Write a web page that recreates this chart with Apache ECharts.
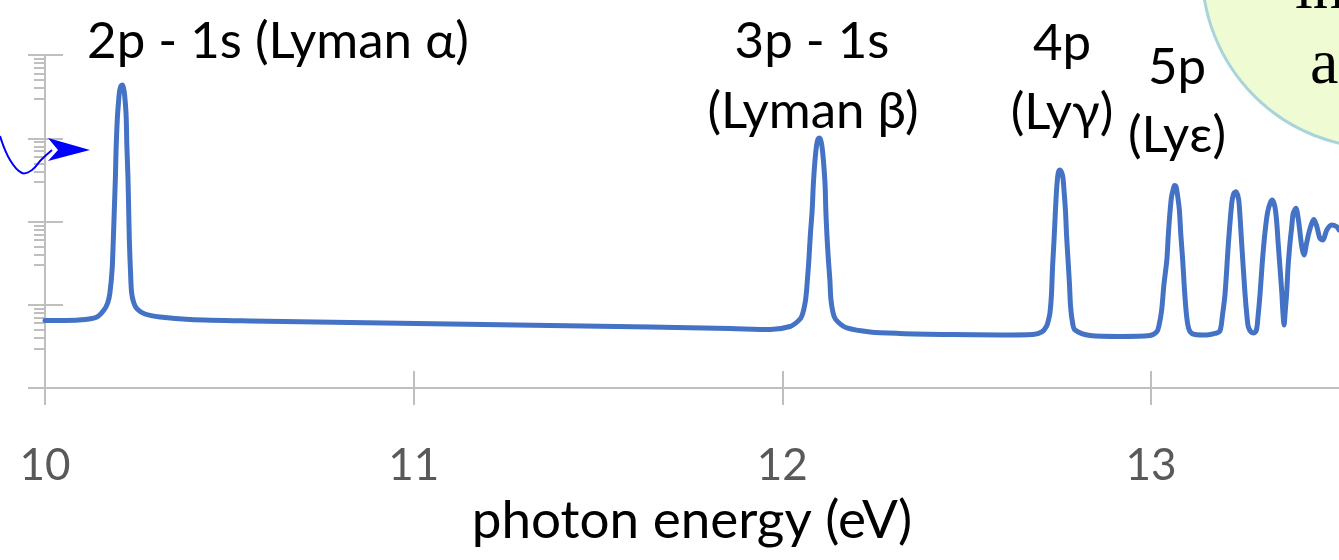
<!DOCTYPE html>
<html>
<head>
<meta charset="utf-8">
<title>Lyman series</title>
<script src="https://cdn.jsdelivr.net/npm/echarts@6/dist/echarts.min.js"></script>
<style>
  html, body { margin: 0; padding: 0; background: #fff; }
  .spectrum { width: 1339px; height: 560px; }
</style>
</head>
<body>
<div class="spectrum"></div>
<script>
// photon energy (eV)
let energy = [
  10.000, 10.054, 10.109, 10.141, 10.160, 10.170, 10.176, 10.182, 10.185, 10.188,
  10.191, 10.193, 10.196, 10.199, 10.202, 10.206, 10.210, 10.213, 10.216, 10.220,
  10.222, 10.225, 10.227, 10.229, 10.232, 10.235, 10.241, 10.250, 10.271, 10.312,
  10.393, 10.556, 10.827, 11.099, 11.370, 11.641, 11.858, 11.967,
  12.021, 12.043, 12.053, 12.063, 12.068, 12.072, 12.076, 12.081, 12.084, 12.088,
  12.093, 12.097, 12.100, 12.104, 12.108, 12.112, 12.116, 12.118, 12.121, 12.125,
  12.129, 12.132, 12.140, 12.151, 12.175, 12.238,
  12.319, 12.455, 12.590, 12.680, 12.704,
  12.717, 12.722, 12.726, 12.730, 12.733, 12.737, 12.740, 12.743, 12.746, 12.749,
  12.753, 12.757, 12.761, 12.764, 12.768, 12.771, 12.775, 12.779, 12.782, 12.787,
  12.794, 12.835, 12.916, 12.997,
  13.016, 13.022, 13.029, 13.035, 13.043, 13.047, 13.052, 13.056, 13.061, 13.064,
  13.068, 13.072, 13.077, 13.081, 13.086, 13.090, 13.095, 13.100, 13.106, 13.119,
  13.151, 13.174,
  13.187, 13.194, 13.201, 13.210, 13.219, 13.224, 13.230, 13.235, 13.239, 13.246,
  13.255, 13.260, 13.264, 13.271, 13.279,
  13.286, 13.290, 13.296, 13.302, 13.309, 13.316, 13.323, 13.329, 13.336, 13.341,
  13.345, 13.350, 13.355, 13.358, 13.361, 13.364, 13.368, 13.372, 13.377, 13.382,
  13.386, 13.393, 13.400, 13.409, 13.415, 13.422, 13.429, 13.436, 13.442, 13.450,
  13.458, 13.466, 13.477, 13.490, 13.504, 13.510
];
// intensity, log scale (no tick values on the original)
let intensity = [
  6.47, 6.47, 6.65, 7.13, 8.65, 10.5, 13.8, 26.2, 55.2, 137,
  342, 785, 1657, 2578, 3594, 4243, 4362, 4015, 3307, 1902,
  830, 342, 137, 55.2, 24.7, 13.8, 10.5, 8.89, 7.74, 7.13,
  6.65, 6.38, 6.12, 5.87, 5.63, 5.40, 5.18, 5.04,
  5.48, 6.38, 7.33, 11.4, 19.8, 34.5, 68.8, 137, 274, 504,
  830, 980, 1007, 953, 770, 504, 274, 137, 68.8, 34.5,
  19.8, 11.4, 7.33, 6.20, 5.26, 4.71,
  4.52, 4.39, 4.33, 4.39, 4.71,
  5.56, 6.56, 7.96, 13.1, 28.4, 59.9, 113, 208, 315, 393,
  416, 393, 342, 239, 137, 68.8, 34.5, 17.3, 9.40, 6.20,
  4.97, 4.27, 4.16, 4.27,
  4.75, 5.71, 8.65, 17.3, 34.5, 68.8, 137, 202, 250, 271,
  262, 208, 137, 68.8, 34.5, 17.3, 8.65, 5.71, 4.75, 4.39,
  4.33, 4.52,
  4.84, 7.53, 13.7, 54.7, 165, 214, 228, 208, 165, 54.7,
  13.7, 7.53, 5.45, 4.71, 4.58,
  4.97, 6.93, 13.7, 32.6, 72.2, 127, 165, 181, 151, 98.6,
  54.7, 27.6, 13.7, 7.96, 5.71, 8.18, 13.7, 29.2, 54.7, 88.3,
  126, 144, 104, 49.8, 39.6, 54.7, 74.8, 95.2, 106, 86.6,
  62.8, 59.9, 79.1, 90.8, 86.6, 79.1
];
let energyTicks = [10, 11, 12, 13];
// minor ticks inside each decade of the log axis
let minorSteps = [3, 4, 5, 6, 7, 8, 9];
let peakLabels = ['2p - 1s (Lyman α)', '3p - 1s', '(Lyman β)', '4p', '(Lyγ)', '5p', '(Lyε)'];

(function () {
  let mychart = echarts.init(document.querySelector('.spectrum'))
  let axisGray = '#bfbfbf'
  let labelFont = '51px Lato, "Noto Sans", sans-serif'
  let points = energy.map(function (e, i) {
    return [e, intensity[i]]
  })
  // decade exponent + log10(step), drawn on a helper axis running 0..4
  let minorTicks = []
  for (let d = 0; d < 4; d++) {
    minorSteps.forEach(function (k) {
      minorTicks.push(+(d + Math.log10(k)).toFixed(4))
    })
  }

  function peakText(text, x, y) {
    return {
      type: 'text',
      x: x,
      y: y,
      z: 100,
      style: {
        text: text,
        font: labelFont,
        fill: '#000',
        textAlign: 'center',
        textVerticalAlign: 'middle',
        align: 'center',
        verticalAlign: 'middle'
      }
    }
  }

  let option = {
    animation: false,
    backgroundColor: '#fff',
    grid: {
      left: 45,
      right: 0,
      top: 55,
      bottom: 172,
      outerBoundsMode: 'none'
    },
    xAxis: [
      {
        type: 'value',
        min: 10,
        max: 13.51,
        position: 'bottom',
        axisLine: { show: true, onZero: false, lineStyle: { color: axisGray, width: 2 } },
        axisTick: { show: true, length: 17, customValues: energyTicks, lineStyle: { color: axisGray, width: 2 } },
        axisLabel: {
          customValues: energyTicks,
          margin: 56,
          fontSize: 44,
          fontFamily: 'Lato',
          color: '#595959'
        },
        splitLine: { show: false },
        name: 'photon energy (eV)',
        nameLocation: 'middle',
        nameGap: 106,
        nameTextStyle: { fontSize: 53, fontFamily: 'Lato', color: '#000' }
      },
      {
        // second axis only for the upward half of the crossing ticks
        type: 'value',
        min: 10,
        max: 13.51,
        position: 'bottom',
        axisLine: { show: false, onZero: false },
        axisTick: { show: true, inside: true, length: 17, customValues: energyTicks, lineStyle: { color: axisGray, width: 2 } },
        axisLabel: { show: false },
        splitLine: { show: false }
      }
    ],
    yAxis: [
      {
        type: 'log',
        logBase: 10,
        min: 1,
        max: 10000,
        position: 'left',
        axisLine: { show: true, onZero: false, lineStyle: { color: axisGray, width: 2 } },
        axisTick: { show: true, length: 17, lineStyle: { color: axisGray, width: 2 } },
        axisLabel: { show: false },
        splitLine: { show: false }
      },
      {
        type: 'log',
        logBase: 10,
        min: 1,
        max: 10000,
        position: 'left',
        axisLine: { show: false, onZero: false },
        axisTick: { show: true, inside: true, length: 18, lineStyle: { color: axisGray, width: 2 } },
        axisLabel: { show: false },
        splitLine: { show: false }
      },
      {
        type: 'value',
        min: 0,
        max: 4,
        position: 'left',
        axisLine: { show: false, onZero: false },
        axisTick: { show: true, length: 11, customValues: minorTicks, lineStyle: { color: axisGray, width: 2 } },
        axisLabel: { show: false },
        splitLine: { show: false }
      }
    ],
    series: [
      {
        name: 'Lyman series',
        type: 'line',
        xAxisIndex: 0,
        yAxisIndex: 0,
        data: points,
        showSymbol: false,
        smooth: 0.3,
        lineStyle: { color: '#4472c4', width: 5, cap: 'round', join: 'round' }
      }
    ],
    graphic: [
      {
        type: 'circle',
        z: 90,
        shape: { cx: 1380, cy: -30, r: 178 },
        style: { fill: '#eefbd3', stroke: '#a8d4da', lineWidth: 3 }
      },
      {
        type: 'text',
        x: 1295,
        y: -9,
        z: 100,
        style: { text: 'in', font: '64px "Liberation Serif"', fill: '#000', verticalAlign: 'middle', textVerticalAlign: 'middle' }
      },
      {
        type: 'text',
        x: 1310,
        y: 66,
        z: 100,
        style: { text: 'a', font: '64px "Liberation Serif"', fill: '#000', verticalAlign: 'middle', textVerticalAlign: 'middle' }
      },
      {
        type: 'polyline',
        z: 100,
        shape: { points: [[0, 136], [10, 160], [22, 173], [32, 170], [41, 160], [52, 150]], smooth: 0.4 },
        style: { stroke: '#0000ff', lineWidth: 2, fill: null }
      },
      {
        type: 'polygon',
        z: 100,
        shape: { points: [[48, 138], [90, 150], [48, 161], [58, 150]] },
        style: { fill: '#0000ff' }
      },
      peakText(peakLabels[0], 278, 42),
      peakText(peakLabels[1], 812, 42),
      peakText(peakLabels[2], 813, 112),
      peakText(peakLabels[3], 1062, 44),
      peakText(peakLabels[4], 1062, 113),
      peakText(peakLabels[5], 1177, 68),
      peakText(peakLabels[6], 1177, 136)
    ]
  }
  mychart.setOption(option)
  window.addEventListener('resize', function () {
    mychart.resize()
  })
})();
</script>
</body>
</html>
